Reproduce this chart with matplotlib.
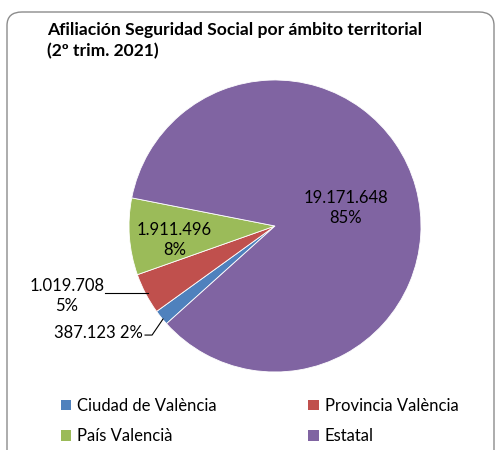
import numpy as np
import matplotlib.pyplot as plt
from matplotlib.patches import FancyBboxPatch, Patch

plt.rcParams['font.family'] = ['Lato', 'DejaVu Sans']

# datos (2º trim. 2021)
categorias = ["Ciudad de València", "Provincia València", "País Valencià", "Estatal"]
afiliados  = [387123, 1019708, 1911496, 19171648]
etiquetas  = ["387.123", "1.019.708", "1.911.496", "19.171.648"]
porcentaje = ["2%", "5%", "8%", "85%"]
colores    = ["#4F81BD", "#C0504D", "#9BBB59", "#8064A2"]

W, H = 498, 450
fig = plt.figure(figsize=(W / 100, H / 100), dpi=100)

# marco redondeado del gráfico
frame = FancyBboxPatch((7 / W, -20 / H), 487 / W, (H - 12 + 20) / H,
                       boxstyle="round,pad=0,rounding_size=0.03",
                       transform=fig.transFigure, facecolor="none",
                       edgecolor="#8c8c8c", linewidth=1.0, zorder=-1)
fig.patches.append(frame)

fig.text(47 / W, 1 - 30 / H, "Afiliación Seguridad Social por ámbito territorial",
         fontsize=12.6, fontweight="bold", va="center", ha="left")
fig.text(47 / W, 1 - 51 / H, "(2º trim. 2021)",
         fontsize=12.6, fontweight="bold", va="center", ha="left")

# pie: centre (275,226) px, radius 146 px
R = 146
ax = fig.add_axes([(275 - R) / W, (H - 226 - R) / H, 2 * R / W, 2 * R / H])
wedges, _ = ax.pie(afiliados, colors=colores, startangle=222, counterclock=False,
                   radius=1, wedgeprops=dict(edgecolor="white", linewidth=0.6))
ax.set_xlim(-1, 1)
ax.set_ylim(-1, 1)
ax.set_aspect("equal")
ax.axis("off")

lab_fs = 12
# Estatal
ax.text(0.486, 0.123, etiquetas[3] + "\n" + porcentaje[3], ha="center", va="center",
        fontsize=lab_fs, linespacing=1.3)
# País Valencià
ax.text(-0.69, -0.096, etiquetas[2] + "\n" + porcentaje[2], ha="center", va="center",
        fontsize=lab_fs, linespacing=1.3)
# Provincia València (fuera, con línea guía)
ax.text(-1.425, -0.48, etiquetas[1] + "\n" + porcentaje[1], ha="center", va="center",
        fontsize=lab_fs, linespacing=1.3, clip_on=False)
ax.plot([-1.164, -0.87], [-0.459, -0.459], color="black", lw=0.8, clip_on=False)
# Ciudad de València
ax.text(-0.904, -0.733, etiquetas[0] + " " + porcentaje[0], ha="right", va="center",
        fontsize=lab_fs, clip_on=False)
ax.plot([-0.89, -0.842, -0.767], [-0.747, -0.747, -0.637], color="black", lw=0.8,
        clip_on=False)

# leyenda en filas: Ciudad | Provincia / País | Estatal
orden = [0, 2, 1, 3]
handles = [Patch(facecolor=colores[i], edgecolor="none") for i in orden]
fig.legend(handles, [categorias[i] for i in orden], ncol=2, loc="center left",
           bbox_to_anchor=(46 / W, 1 - 421 / H), frameon=False, fontsize=12,
           handlelength=0.62, handleheight=0.62, handletextpad=0.35,
           columnspacing=5.5, labelspacing=0.85)

fig.savefig("out.png", dpi=100)
